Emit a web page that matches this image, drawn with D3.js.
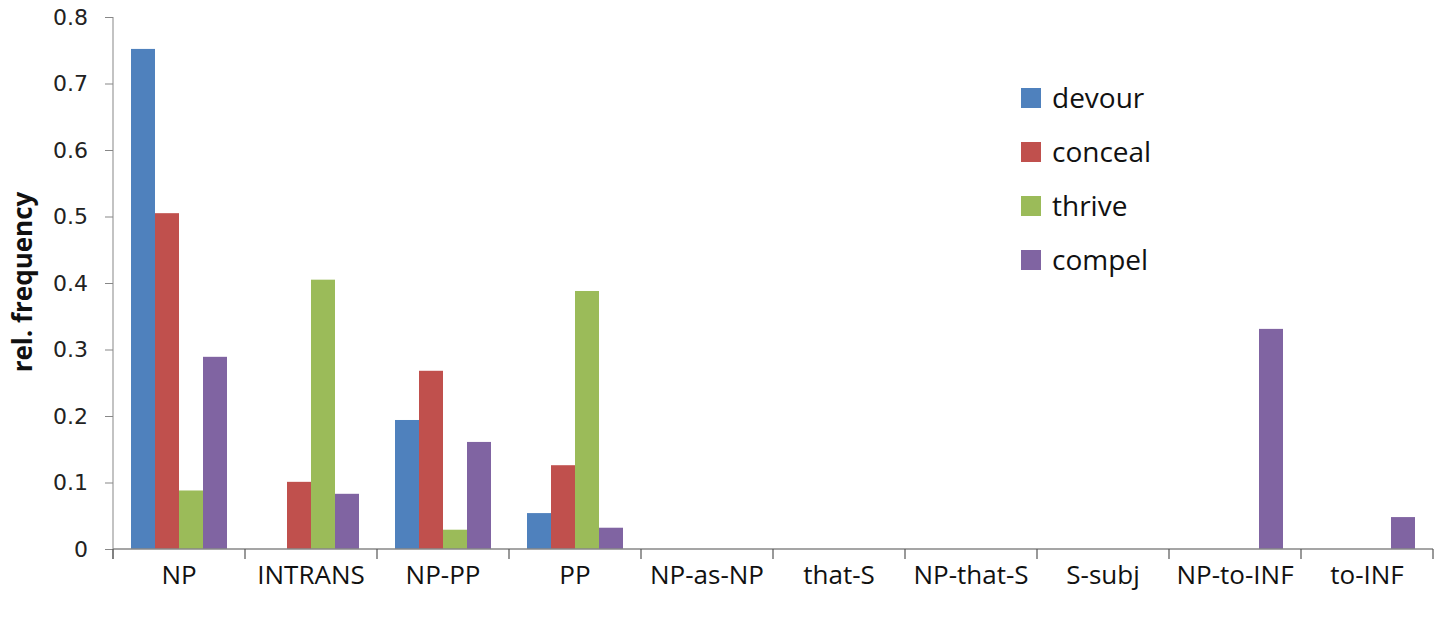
<!DOCTYPE html>
<html>
<head>
<meta charset="utf-8">
<script src="https://cdn.jsdelivr.net/npm/d3@7"></script>
<style>
  body { margin: 0; background: #fff; }
  svg { display: block; }
</style>
</head>
<body>
<script>
const categories = ["NP", "INTRANS", "NP-PP", "PP", "NP-as-NP", "that-S", "NP-that-S", "S-subj", "NP-to-INF", "to-INF"];
const verbs = ["devour", "conceal", "thrive", "compel"];
const colors = ["#4F81BD", "#C0504D", "#9BBB59", "#8064A2"];

const devour  = [0.752, 0,     0.194, 0.054, 0, 0, 0, 0, 0,     0];
const conceal = [0.505, 0.101, 0.268, 0.126, 0, 0, 0, 0, 0,     0];
const thrive  = [0.088, 0.405, 0.029, 0.388, 0, 0, 0, 0, 0,     0];
const compel  = [0.289, 0.083, 0.161, 0.032, 0, 0, 0, 0, 0.331, 0.048];
const yTicks = [0, 0.1, 0.2, 0.3, 0.4, 0.5, 0.6, 0.7, 0.8];

const series = [devour, conceal, thrive, compel];

let width = 1439, height = 623;
let svg = d3.select("body").append("svg")
  .attr("width", width).attr("height", height);

let x0 = d3.scaleBand().domain(categories).range([113, 1433]).padding(0);
let x1 = d3.scaleBand().domain(verbs).range([18, x0.bandwidth() - 18]).padding(0);
let y = d3.scaleLinear().domain([0, 0.8]).range([549, 17]);

// bars
let groups = svg.append("g").selectAll("g")
  .data(categories)
  .join("g")
  .attr("transform", d => `translate(${x0(d)},0)`);

groups.selectAll("rect")
  .data((c, i) => verbs.map((v, k) => ({ verb: v, k: k, value: series[k][i] })))
  .join("rect")
  .filter(d => d.value > 0)
  .attr("x", d => x1(d.verb))
  .attr("width", x1.bandwidth())
  .attr("y", d => y(d.value))
  .attr("height", d => y(0) - y(d.value))
  .attr("fill", d => colors[d.k]);

// y axis
let yAxis = svg.append("g")
  .attr("transform", "translate(113,0)")
  .call(d3.axisLeft(y).tickValues(yTicks).tickSize(8).tickPadding(17)
    .tickFormat(d => d === 0 ? "0" : d3.format(".1f")(d)));
yAxis.select(".domain").attr("stroke", "#878787").attr("d", "M0,17V559");
yAxis.selectAll(".tick line").attr("stroke", "#878787");
yAxis.selectAll(".tick text")
  .attr("font-family", "Verdana, 'DejaVu Sans', sans-serif")
  .attr("font-size", 22).attr("fill", "#222");

// x axis
let xAxis = svg.append("g")
  .attr("transform", "translate(0,549)")
  .call(d3.axisBottom(x0).tickSize(0).tickPadding(17));
xAxis.select(".domain").attr("stroke", "#878787").attr("stroke-width", 1.5).attr("d", "M113,0H1433");
xAxis.selectAll(".tick text")
  .attr("font-family", "'Open Sans', 'Noto Sans', sans-serif")
  .attr("font-size", 26).attr("fill", "#111");

// category separator ticks
xAxis.append("g").selectAll("line")
  .data(categories.concat(["end"]))
  .join("line")
  .attr("x1", (d, i) => 113 + i * x0.step())
  .attr("x2", (d, i) => 113 + i * x0.step())
  .attr("y1", 0).attr("y2", 10)
  .attr("stroke", "#555").attr("stroke-width", 1.2);

// y label
svg.append("text")
  .attr("transform", "translate(32,282) rotate(-90)")
  .attr("text-anchor", "middle")
  .attr("font-family", "'Open Sans', 'Noto Sans', sans-serif")
  .attr("font-weight", "bold")
  .attr("font-size", 26)
  .attr("fill", "#111")
  .text("rel. frequency");

// legend
let legend = svg.append("g").selectAll("g")
  .data(verbs)
  .join("g")
  .attr("transform", (d, i) => `translate(1021,${88 + i * 54})`);
legend.append("rect")
  .attr("width", 20).attr("height", 20)
  .attr("fill", (d, i) => colors[i]);
legend.append("text")
  .attr("x", 31).attr("y", 10).attr("dy", "0.35em")
  .attr("font-family", "'Open Sans', 'Noto Sans', sans-serif")
  .attr("font-size", 28).attr("fill", "#111")
  .text(d => d);
</script>
</body>
</html>
